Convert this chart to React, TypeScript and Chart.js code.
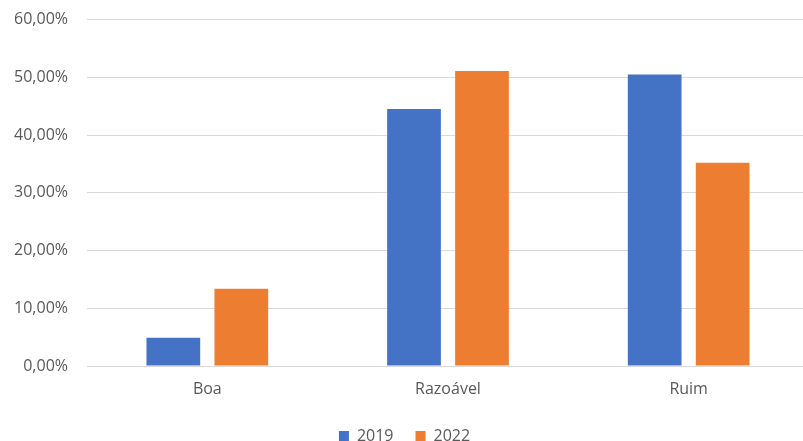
import React, { useEffect, useRef } from "react";
import { Chart, registerables } from "chart.js";

Chart.register(...registerables);

const categories = ["Boa", "Razoável", "Ruim"];
const series2019 = [4.9, 44.5, 50.5];
const series2022 = [13.4, 51.1, 35.2];
const seriesLabels = ["2019", "2022"];
const yMax = 60;
const yStep = 10;

const FONT = "'Open Sans', 'Noto Sans', sans-serif";
const TEXT = "#595959";

export default function App() {
  const ref = useRef<HTMLCanvasElement | null>(null);

  useEffect(() => {
    document.body.style.margin = "0";
    document.body.style.overflow = "hidden";
    const ctx = ref.current!;
    const chart = new Chart(ctx, {
      type: "bar",
      data: {
        labels: categories,
        datasets: [
          {
            label: seriesLabels[0],
            data: series2019,
            backgroundColor: "#4472C4",
            categoryPercentage: 0.565,
            barPercentage: 0.79,
          },
          {
            label: seriesLabels[1],
            data: series2022,
            backgroundColor: "#ED7D31",
            categoryPercentage: 0.565,
            barPercentage: 0.79,
          },
        ],
      },
      options: {
        animation: false,
        responsive: false,
        maintainAspectRatio: false,
        layout: { padding: { top: 9.5, right: 1, left: 0, bottom: -13 } },
        plugins: {
          tooltip: { enabled: false },
          legend: {
            position: "bottom",
            labels: {
              boxWidth: 10,
              boxHeight: 10,
              padding: 22,
              color: TEXT,
              font: { family: FONT, size: 16 },
            },
          },
        },
        scales: {
          x: {
            grid: { display: false, drawTicks: false },
            border: { display: true, color: "#D9D9D9", width: 1 },
            ticks: { color: TEXT, font: { family: FONT, size: 16 }, padding: 14 },
            afterFit: (s: any) => {
              s.height = 40;
            },
          },
          y: {
            min: 0,
            max: yMax,
            grid: { color: "#D9D9D9", lineWidth: 1, drawTicks: false },
            border: { display: false },
            ticks: {
              stepSize: yStep,
              color: TEXT,
              padding: 19,
              font: { family: FONT, size: 16 },
              callback: (v: any) => Number(v).toFixed(2).replace(".", ",") + "%",
            },
            afterFit: (s: any) => {
              s.width = 87;
            },
          },
        },
      },
    });
    return () => chart.destroy();
  }, []);

  return (
    <div style={{ position: "relative", width: 803, height: 441, overflow: "hidden", background: "#fff" }}>
      <canvas ref={ref} width={810} height={450} style={{ position: "absolute", left: 0, top: -9, width: 810, height: 450 }} />
    </div>
  );
}
